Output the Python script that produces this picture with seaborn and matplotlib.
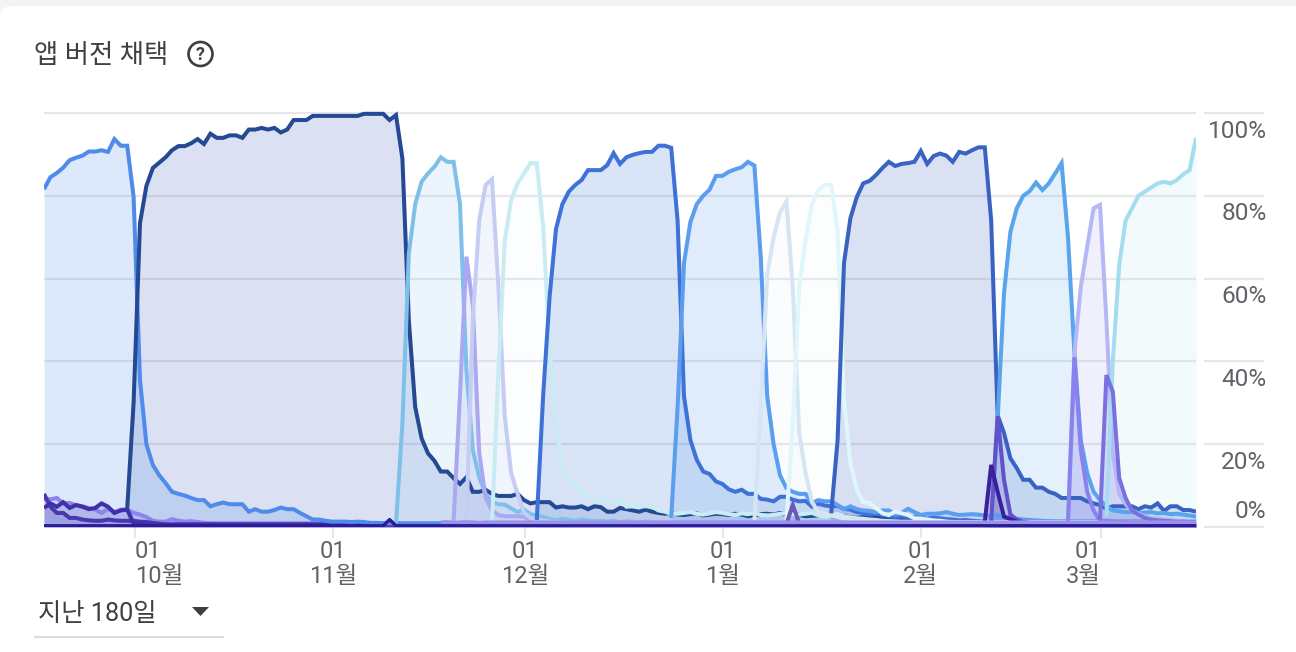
import numpy as np
import pandas as pd
import seaborn as sns
import matplotlib
matplotlib.use("Agg")
import matplotlib.pyplot as plt
from matplotlib.patches import Circle, FancyBboxPatch, Polygon

sns.set_theme(style="white")
FONT = ["Roboto", "Noto Sans CJK KR", "DejaVu Sans"]
plt.rcParams["font.family"] = FONT

TOTAL_DAYS = 180
title_text = "앱 버전 채택"
range_text = "지난 180일"
y_values = [0, 20, 40, 60, 80, 100]
y_labels = ["0%", "20%", "40%", "60%", "80%", "100%"]
month_days = [14.2, 45.2, 75.2, 106.1, 137.0, 165.2]
month_labels = ["01\n10월", "01\n11월", "01\n12월", "01\n1월", "01\n2월", "01\n3월"]
month_aligns = ["left", "center", "center", "center", "center", "right"]

# Each version: first day, then daily adoption share (%)
start_violet = [6.7, 6.7, 7, 5.7, 5.8, 5.3, 5, 4.6, 4.2, 3.4, 4.4, 3.6, 4.2, 4.2, 3.4, 3, 2.4, 1.5, 1.3, 1.3, 1.9, 1.5, 1.3, 1.4, 1.2, 1.0, 0.9]
start_dark = [8, 4.9, 3.4, 3.4, 2.2, 2.2, 1.8, 1.6, 1.5, 1.5, 1.8, 1.6, 1.5, 1.5, 1.5, 1.3, 1.2, 1.0, 0.8, 0.6]
start_mid = [4.6, 5.7, 4.9, 6, 4.6, 5.3, 4.9, 4.3, 4.6, 5.7, 4.9, 3.4, 4, 4.2, 0.9, 0.8, 0.6]
ver_a = [81.6, 84.5, 85.5, 86.8, 88.6, 89.2, 89.7, 90.7, 90.7, 91, 90.6, 93.7, 92.1, 92.1, 79.8, 35.5, 20, 15, 12.5,
         10.6, 8.5, 8, 7.6, 7, 6.5, 6.5, 5, 5.5, 5.9, 5.5, 5.5, 5.5, 3.7, 4.3, 3.7, 3.7, 4.1, 4.7, 4.3, 4.3, 3.4, 2.6,
         1.8, 1.8, 1.5, 1.3, 1.3, 1.3, 1.2, 1.3, 1.2, 1.0, 1.0, 0.9, 0.9, 0.9, 0.8]
ver_b = [4.4, 30, 73.4, 82.4, 86.7, 88, 89.3, 91, 92, 92, 92.7, 93.7, 92.5, 95, 94, 94, 94.6, 94.6, 94, 96, 96, 96.4,
         96, 96.4, 95.3, 96, 98.3, 98.3, 98.3, 99.3, 99.3, 99.3, 99.3, 99.3, 99.3, 99.3, 99.3, 99.8, 99.8, 99.8, 99.8,
         98.3, 99.5, 89, 50, 29, 21.4, 17.8, 16, 13.4, 13.4, 11.8, 10.4, 12, 8.5, 8.5, 9, 8, 7.5, 7.5, 7.5, 8, 6.5, 5.7,
         6, 6, 6, 4.7, 5, 4.7, 4.7, 5, 4.3, 5, 4.8, 3.7, 3.7, 4.6, 4.3, 4, 3.7, 4.2, 3.7, 3.4, 3.2, 3.4, 3, 2.9, 3.1,
         3.3, 2.8, 3, 3.2, 3.1, 2.9, 3.2, 3, 2.6, 2.8, 3.1, 3.2, 3, 3.4, 3.1, 3.5, 2.9, 2.6, 2.7, 2.8, 3, 2.6, 2.5, 2.7,
         2.3, 2.2, 2.4, 2.2, 2.4, 2.1, 2, 1.9, 1.8, 1.9, 1.7, 1.6, 1.5, 1.5, 1.4, 1.2, 1.0]
ver_c = [0.8, 25, 66, 78, 83.4, 85.4, 87, 89.3, 88.2, 88.2, 78, 38, 18.6, 12, 8, 6, 5.5, 5.4, 4.5, 3.6, 4.2, 3.1, 2.8,
         2.4, 2, 1.6, 2, 1.7, 1.5, 1.8, 1.6, 1.4, 1.5, 1.3, 1.5, 1.2, 1.4, 1.3, 1.1, 1.3, 1.2, 1.0]
ver_d = [1.4, 32, 65.3, 53.6, 18, 7, 4, 2.9, 2.6, 2.6, 2.6, 2.5, 1.5, 1.1, 1.0, 1.0]
ver_e = [1.4, 50, 74, 82.6, 84, 58, 26.6, 13, 8, 3.5, 2.2, 1.8, 1.5, 1.3, 1.2, 1.0]
ver_f = [1, 38, 69.3, 79, 83, 85.4, 87.9, 87.9, 72.5, 43.5, 25, 13.8, 11, 10, 9, 7.3, 6.5, 6.9, 6.5, 6, 6.5, 4.9, 5, 5,
         5, 4.9, 4, 3.7, 3.2, 3.2, 3.4, 3.6, 3.2, 3, 3.3, 3.6, 3.4, 3.1, 2.9, 3.3, 3.1, 3.4, 2.9, 2.8, 2.9, 3.2, 3.4,
         3.1, 3, 3.2, 3.4, 2.8, 2.5, 2.7, 2.4, 2.1, 2, 1.8, 1.7, 1.5, 1.4, 1.3]
ver_g = [1.7, 32, 55.6, 72, 78, 81, 82.6, 83.8, 86.2, 86.2, 86.2, 87.4, 90.3, 87.7, 89.3, 89.9, 90.3, 90.6, 90.6, 92.1,
         92.1, 91.6, 74, 31.6, 21, 16.2, 13.4, 12.8, 11, 10.4, 9.1, 8.5, 9, 8, 8, 6.8, 6.6, 6.2, 7.3, 7.3, 6.6, 6.2,
         6.3, 4.9, 5.6, 5.2, 5, 5.1, 4.4, 4.2, 3.6, 3.4, 3, 3.3, 2.9, 2.6, 2.4, 2.6, 2.3, 2.4, 2.2, 2, 2.3, 2.1, 1.9,
         1.8, 1.6, 1.7, 1.5, 1.4, 1.3]
ver_h = [2.2, 29, 63.8, 73.7, 78, 80, 81.5, 84.8, 84.8, 85.8, 86.4, 86.9, 88.2, 87.3, 65, 31.6, 20, 12.5, 9.4, 8.5, 8,
         8, 5.8, 6.5, 6.2, 6.2, 5.3, 4.3, 5, 4.3, 4, 3.9, 3.5, 4, 4, 3, 3.4, 4.4, 3.6, 2.9, 3.2, 3.2, 3.3, 3.6, 3.2,
         2.9, 3, 3.1, 3, 2.8, 2.7, 2.9, 2.5, 2.2, 2, 1.8, 1.7, 1.6, 1.5, 1.4, 1.3]
ver_i = [1.7, 29, 61, 70, 76, 78.6, 58, 22.7, 13, 6, 3.6, 3.2, 3, 3.1, 2.6, 2.3, 2.1, 2, 1.8, 1.7, 1.5, 1.4, 1.3, 1.2]
ver_j = [1.5, 25, 58, 69.3, 78, 81.4, 82.6, 82.6, 71.7, 30.7, 15.4, 9, 6, 5.8, 4.6, 3.3, 2.9, 3.7, 3.3, 2.9, 2.1, 2,
         1.8, 1.6, 1.5, 1.3, 1.2, 1.1]
ver_k = [3.3, 21, 63.8, 74.6, 79.7, 83, 83.6, 85, 86.7, 88.2, 87.2, 87.7, 87.9, 88.2, 90.8, 87.7, 89.6, 90.2, 89.7,
         88.2, 90.6, 90.2, 91, 91.7, 91.7, 74, 27, 22.7, 16.6, 14.2, 11.4, 11.4, 9.5, 9.5, 8.5, 8, 7, 7, 7, 7, 6.2, 5.7,
         5.3, 4.5, 5, 5, 5, 5, 4.3, 5, 4.7, 5.7, 3.9, 5, 5, 4.1, 4.1, 3.7]
blip_jan = [0.8, 5.3, 0.9]
ver_l = [1.5, 25.8, 56.5, 71.3, 77, 80, 81.1, 83.2, 81.4, 83, 85.4, 87.9, 70, 42, 21, 13, 8.5, 6.5, 5, 4, 3.8, 3.6, 3.6,
         3.4, 3.5, 3.6, 3.3, 3.4, 3.1, 3.2, 3, 2.8, 2.5]
ver_m = [1.7, 42, 58, 67.7, 77, 77.8, 50, 18, 8, 5.5, 4, 3.2, 2.6, 2.2, 2, 1.8, 1.7, 1.5, 1.4, 1.4, 1.3]
ver_n = [2.5, 40, 63.3, 74, 77, 80, 81, 82, 83, 83.4, 83, 83.8, 85.2, 86.2, 94]
ver_o = [1, 41, 18.6, 8.5, 4, 1.5, 1.5, 1.3, 1.2, 1.2, 1.1, 1.2, 1.1, 1.1, 1.0, 1.0, 1.0, 1.0, 1.0, 1.0, 1.0]
ver_p = [1.5, 36.7, 32.7, 11.8, 7, 4, 3, 2.2, 1.8, 1.6, 1.5, 1.4, 1.3, 1.3, 1.2, 1.2]
ver_q = [1.5, 26.8, 11.4, 3, 1.8, 1.2, 1.0, 0.9, 0.8]
ver_r = [1.3, 15, 8.5, 2.5, 1.9, 1.3, 0.8, 0.6, 0.5]
floor_band = [1.1, 1.2, 1.0, 1.1, 1.2, 1.1, 1.0, 1.1]
floor_left = [0.3] * 54 + [1.8, 0.3]
floor_rest = [0.3]

versions = [
    ("start_violet", 0, start_violet, "#8a84ec"),
    ("start_dark", 0, start_dark, "#4a36ae"),
    ("start_mid", 0, start_mid, "#3f2fa8"),
    ("ver_a", 0, ver_a, "#4f8bea"),
    ("ver_b", 13, ver_b, "#234a93"),
    ("ver_c", 55, ver_c, "#7fc0ea"),
    ("ver_d", 64, ver_d, "#aaa8f0"),
    ("ver_e", 66, ver_e, "#c5cdf5"),
    ("ver_f", 70, ver_f, "#c9ecf3"),
    ("ver_g", 77, ver_g, "#3f72d8"),
    ("ver_h", 98, ver_h, "#5b9dee"),
    ("ver_i", 111, ver_i, "#d5e5f3"),
    ("ver_j", 116, ver_j, "#dff6fa"),
    ("ver_k", 123, ver_k, "#3a62c2"),
    ("blip_jan", 116, blip_jan, "#6a5ab8"),
    ("ver_l", 148, ver_l, "#58a5ec"),
    ("ver_m", 160, ver_m, "#b5b8f4"),
    ("ver_n", 166, ver_n, "#a6dcf0"),
    ("ver_o", 160, ver_o, "#8a80ef"),
    ("ver_p", 165, ver_p, "#7b70e0"),
    ("ver_q", 148, ver_q, "#6252c8"),
    ("ver_r", 147, ver_r, "#3a1f9e"),
    ("floor_band", 62, floor_band, "#9a92ea"),
]
FILL_ALPHA = 0.19
pale_fill = {"ver_f": 0.07, "ver_j": 0.07, "ver_i": 0.11, "ver_n": 0.14, "ver_c": 0.15, "ver_e": 0.2,
             "ver_m": 0.2, "ver_b": 0.17, "ver_l": 0.16}
fill_colour = {"ver_b": "#2f52b4"}

W, H = 1296, 652
PX_L, PX_R, PX_0, PX_100 = 44, 1196, 527, 113
PX_TOP = 105
PX_PER_PCT = (PX_0 - PX_100) / 100
TEXT = "#5f6368"
DARK = "#3c4043"
GRID = "#e6e7e9"

fig = plt.figure(figsize=(W / 100, H / 100), dpi=100, facecolor="#f3f4f5")

# Card and page furniture, in pixel coordinates
bg = fig.add_axes([0, 0, 1, 1], zorder=0)
bg.set_xlim(0, W)
bg.set_ylim(H, 0)
bg.axis("off")
bg.add_patch(FancyBboxPatch((0, 6), W + 40, H + 40, boxstyle="round,pad=0,rounding_size=12",
                            fc="white", ec="none"))
bg.text(34, 56, title_text, fontsize=19, color=DARK, va="center", ha="left", family=FONT)
bg.add_patch(Circle((200.5, 54), 12, fc="none", ec=DARK, lw=1.9))
bg.text(200.5, 54.5, "?", fontsize=13, color=DARK, ha="center", va="center", fontweight="bold", family=FONT)
bg.text(38, 614, range_text, fontsize=18.2, color=DARK, va="center", ha="left", family=FONT)
bg.add_patch(Polygon([(192, 607), (209, 607), (200.5, 616)], closed=True, fc=DARK, ec="none"))
bg.plot([34, 224], [636.5, 636.5], color="#dadce0", lw=1.5, solid_capstyle="butt")

# Chart
ax = fig.add_axes([PX_L / W, 1 - PX_0 / H, (PX_R - PX_L) / W, (PX_0 - PX_TOP) / H], zorder=1)
ax.patch.set_alpha(0)
ax.set_xlim(0, TOTAL_DAYS)
ax.set_ylim(0, (PX_0 - PX_TOP) / PX_PER_PCT)
for s in ax.spines.values():
    s.set_visible(False)

ax.set_yticks(y_values)
ax.set_yticklabels([])
ax.grid(axis="y", color=GRID, lw=1.6)
ax.grid(axis="x", visible=False)
ax.set_axisbelow(True)
ax.tick_params(axis="y", length=0)

px_per_day = (PX_R - PX_L) / TOTAL_DAYS
stub_from = (1204 - PX_L) / px_per_day
stub_to = (1264 - PX_L) / px_per_day
ax.hlines(y_values, stub_from, stub_to, color=GRID, lw=1.6, clip_on=False)


def expand(first, vals):
    n = TOTAL_DAYS + 1 - first
    y = list(vals)[:n] + [vals[-1]] * max(0, n - len(vals))
    return np.arange(first, TOTAL_DAYS + 1), np.array(y, float)


for name, first, vals, color in versions:
    x, y = expand(first, vals)
    df = pd.DataFrame({"day": x, "share": y})
    ax.fill_between(x, 0, y, color=fill_colour.get(name, color), alpha=pale_fill.get(name, FILL_ALPHA), lw=0)
    sns.lineplot(data=df, x="day", y="share", color=color, lw=2.9, ax=ax,
                 estimator=None, sort=False, legend=False, solid_joinstyle="miter", solid_capstyle="butt")

x, y = expand(0, floor_left + floor_rest)
sns.lineplot(x=x, y=y, color="#2e1a96", lw=2.4, ax=ax, estimator=None, sort=False, legend=False)
ax.fill_between(x, 0, y + 0.5, color="#6a5ac8", alpha=0.3, lw=0)

ax.set_xlabel("")
ax.set_ylabel("")
ax.set_xticks(month_days)
ax.set_xticklabels(month_labels, fontsize=17, color=TEXT, linespacing=1.08, family=FONT)
for lab, al in zip(ax.get_xticklabels(), month_aligns):
    lab.set_ha(al)
    lab.set_multialignment(al)
ax.tick_params(axis="x", length=8, width=1.5, color=GRID, pad=1.5, bottom=True)

for v, lab in zip(y_values, y_labels):
    dy = 15 if v == 0 else -18
    ax.annotate(lab, xy=(1, v), xycoords=("axes fraction", "data"), xytext=(70.5, dy),
                textcoords="offset pixels", ha="right", va="center", fontsize=17.6, color=TEXT,
                annotation_clip=False, family=FONT)

fig.savefig("out.png", dpi=100, facecolor=fig.get_facecolor())
